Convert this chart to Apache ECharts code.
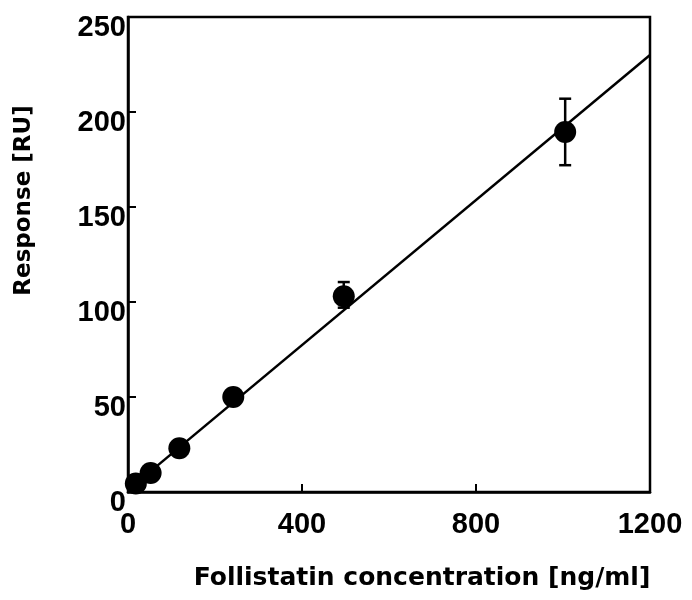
<!DOCTYPE html>
<html>
<head>
<meta charset="utf-8">
<script src="https://cdn.jsdelivr.net/npm/echarts@6/dist/echarts.min.js"></script>
<style>
  html, body { margin: 0; padding: 0; background: #fff; }
  #chart { width: 692px; height: 600px; }
</style>
</head>
<body>
<div id="chart"></div>
<script>
// data
var concentration = [18, 52, 118, 242, 496, 1005];
var response = [4.5, 10, 23, 50, 103, 189.5];
var errLow = [null, null, null, null, 97, 172];
var errHigh = [null, null, null, null, 110.5, 207];
var fitX = [0, 1200];
var fitY = [1, 230];
var xTicks = [0, 400, 800, 1200];
var yTicks = [0, 50, 100, 150, 200, 250];

var points = concentration.map(function(c, i) { return [c, response[i]]; });
var bars = [];
concentration.forEach(function(c, i) {
    if (errLow[i] != null) bars.push([c, errLow[i], errHigh[i]]);
});
var fit = fitX.map(function(x, i) { return [x, fitY[i]]; });

var chart = echarts.init(document.getElementById('chart'));
var font = '"Liberation Sans", Arial, sans-serif';
var nameFont = '"DejaVu Sans", sans-serif';

var option = {
    animation: false,
    backgroundColor: '#fff',
    grid: {
        left: 128,
        right: 42,
        top: 17,
        bottom: 108,
        show: true,
        borderColor: '#000',
        borderWidth: 2.5
    },
    xAxis: {
        type: 'value',
        min: xTicks[0],
        max: xTicks[xTicks.length - 1],
        interval: 400,
        name: 'Follistatin concentration [ng/ml]',
        nameLocation: 'middle',
        nameGap: 74,
        nameTextStyle: {
            color: '#000', fontFamily: nameFont, fontWeight: 'bold', fontSize: 25,
            padding: [0, 0, 0, 66]
        },
        axisLine: { lineStyle: { color: '#000', width: 2.5 } },
        axisTick: { inside: true, length: 8, lineStyle: { color: '#000', width: 2 } },
        axisLabel: {
            color: '#000', fontFamily: font, fontWeight: 'bold', fontSize: 29, margin: 18,
            formatter: function(v) { return String(v); }
        },
        splitLine: { show: false }
    },
    yAxis: {
        type: 'value',
        min: yTicks[0],
        max: yTicks[yTicks.length - 1],
        interval: 50,
        name: 'Response [RU]',
        nameLocation: 'middle',
        nameGap: 92,
        nameTextStyle: {
            color: '#000', fontFamily: nameFont, fontWeight: 'bold', fontSize: 23,
            padding: [0, 0, 0, 108]
        },
        axisLine: { lineStyle: { color: '#000', width: 2.5 } },
        axisTick: { inside: true, length: 8, lineStyle: { color: '#000', width: 2 } },
        axisLabel: {
            color: '#000', fontFamily: font, fontWeight: 'bold', fontSize: 29, margin: 2,
            verticalAlign: 'top', lineHeight: 22
        },
        splitLine: { show: false }
    },
    series: [{
        name: 'fit',
        type: 'line',
        data: fit,
        symbol: 'none',
        lineStyle: { color: '#000', width: 2.5 },
        z: 2
    }, {
        name: 'error',
        type: 'custom',
        data: bars,
        renderItem: function(params, api) {
            var x = api.value(0);
            var lo = api.coord([x, api.value(1)]);
            var hi = api.coord([x, api.value(2)]);
            var w = 6;
            var style = { stroke: '#000', lineWidth: 2.5 };
            return {
                type: 'group',
                children: [
                    { type: 'line', shape: { x1: lo[0], y1: lo[1], x2: hi[0], y2: hi[1] }, style: style },
                    { type: 'line', shape: { x1: lo[0] - w, y1: lo[1], x2: lo[0] + w, y2: lo[1] }, style: style },
                    { type: 'line', shape: { x1: hi[0] - w, y1: hi[1], x2: hi[0] + w, y2: hi[1] }, style: style }
                ]
            };
        },
        z: 3
    }, {
        name: 'response',
        type: 'scatter',
        data: points,
        symbol: 'circle',
        symbolSize: 22,
        itemStyle: { color: '#000', opacity: 1 },
        z: 4
    }]
};

chart.setOption(option);
</script>
</body>
</html>
